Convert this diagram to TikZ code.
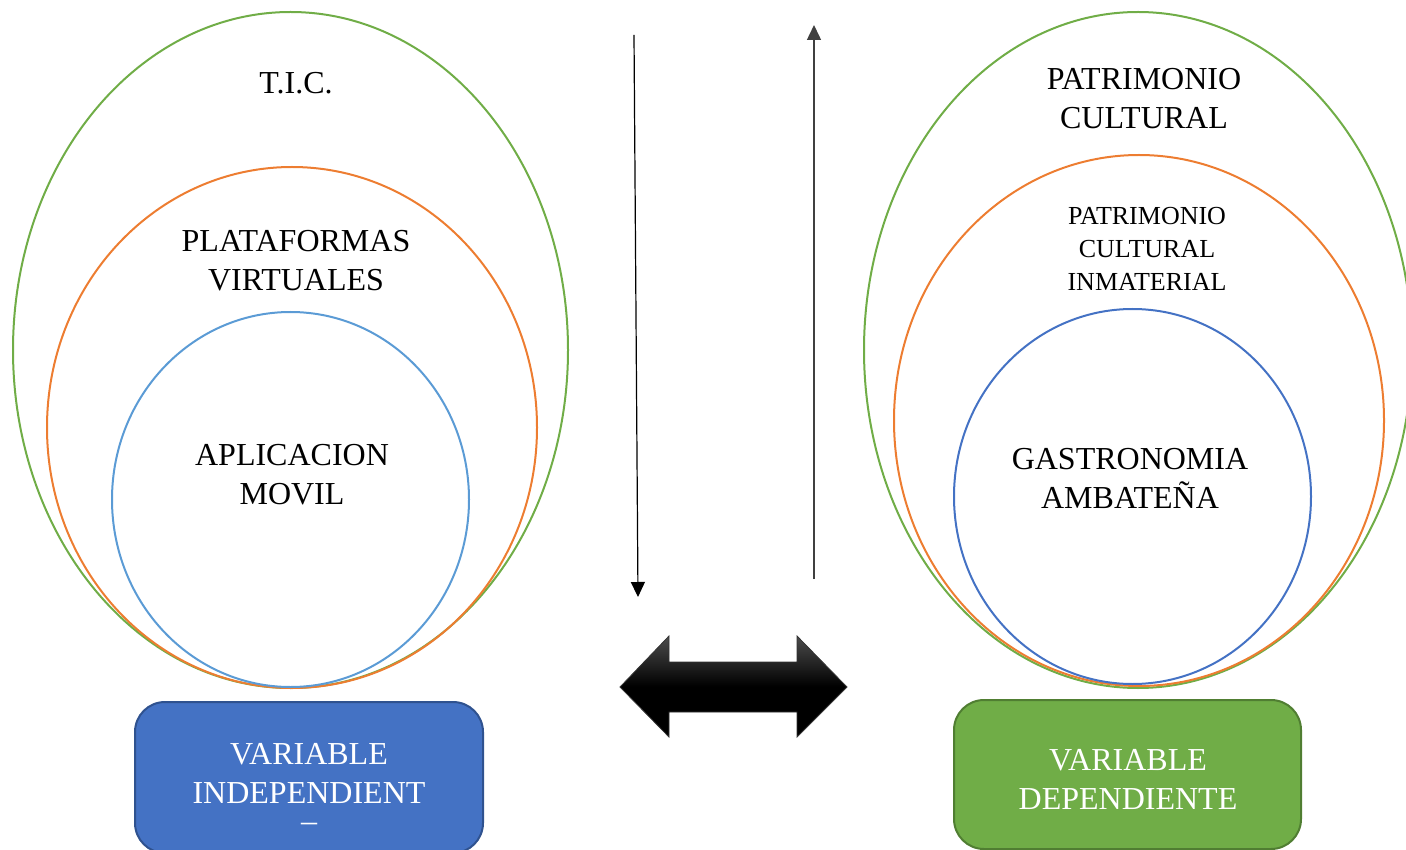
\documentclass[tikz,border=0pt]{standalone}
\usepackage{fontspec}
\setmainfont{Liberation Serif}
\usetikzlibrary{shapes.geometric,arrows.meta}
\definecolor{tgreen}{HTML}{70AD47}
\definecolor{tgreendk}{HTML}{507E32}
\definecolor{torange}{HTML}{ED7D31}
\definecolor{tlblue}{HTML}{5B9BD5}
\definecolor{tblue}{HTML}{4472C4}
\definecolor{tbluedk}{HTML}{2F528F}
\tikzset{
  ell/.style={ellipse, inner sep=0pt, line width=2pt},
  bigtxt/.style={align=center, font=\fontsize{32}{39}\selectfont, inner sep=0pt},
  smalltxt/.style={align=center, font=\fontsize{26}{33}\selectfont, inner sep=0pt},
  varbox/.style={rounded corners=30pt, line width=2pt, inner sep=0pt},
  boxtxt/.style={align=center, text=white, font=\fontsize{32}{39}\selectfont, inner sep=0pt},
  vline/.style={line width=1.2pt, -{Triangle[width=14pt,length=15pt]}},
}
\begin{document}
\begin{tikzpicture}[x=1pt,y=-1pt]
\useasboundingbox (0,0) rectangle (1406,850);
\clip (0,0) rectangle (1406,850);
% left ellipses
\node[ell, draw=tgreen, minimum width=555pt, minimum height=676pt] (ticE) at (290.5,350) {};
\node[ell, draw=torange, minimum width=490pt, minimum height=521pt] (platE) at (292,427.5) {};
\node[ell, draw=tlblue, minimum width=357pt, minimum height=375pt] (appE) at (290.5,499.5) {};
\node[bigtxt] (tic) at (296,83) {T.I.C.};
\node[bigtxt] (plat) at (296,260.5) {PLATAFORMAS\\VIRTUALES};
\node[bigtxt] (app) at (292,475) {APLICACION\\MOVIL};
% right ellipses
\node[ell, draw=tgreen, minimum width=548pt, minimum height=676pt] (patE) at (1138,350) {};
\node[ell, draw=torange, minimum width=490pt, minimum height=531pt] (pciE) at (1139,420.5) {};
\node[ell, draw=tblue, minimum width=357pt, minimum height=375pt] (gasE) at (1132.5,496.5) {};
\node[bigtxt] (pat) at (1144,98.5) {PATRIMONIO\\CULTURAL};
\node[smalltxt] (pci) at (1147,249) {PATRIMONIO\\CULTURAL\\INMATERIAL};
\node[bigtxt] (gas) at (1130,478.5) {GASTRONOMIA\\AMBATEÑA};
% boxes
\node[varbox, fill=tblue, draw=tbluedk, minimum width=348pt, minimum height=151pt, anchor=north west] (vi) at (134,701) {};
\node[boxtxt] (vit) at (309,773.5) {VARIABLE\\INDEPENDIENT};
\node[boxtxt, text height=12pt, text depth=0pt, anchor=base] (vidash) at (309,831) {–};
\node[varbox, fill=tgreen, draw=tgreendk, minimum width=347pt, minimum height=149pt, anchor=north west] (vd) at (953,699) {};
\node[boxtxt] (vdt) at (1128,779.5) {VARIABLE\\DEPENDIENTE};
% vertical arrows
\coordinate (a1s) at (634,35);
\coordinate (a1e) at (638,597);
\coordinate (a2s) at (814,579);
\coordinate (a2e) at (814,25);
\draw[vline] (a1s) -- (a1e);
\draw[vline, draw=black!75, line width=1.5pt] (a2s) -- (a2e);
% double arrow
\shade[top color=black!70, bottom color=black, middle color=black, draw=black!80, line width=0.8pt]
  (620,687) -- (669,636) -- (669,662) -- (797,662) -- (797,636) -- (847,687)
  -- (797,737) -- (797,712) -- (669,712) -- (669,737) -- cycle;
\end{tikzpicture}
\end{document}
